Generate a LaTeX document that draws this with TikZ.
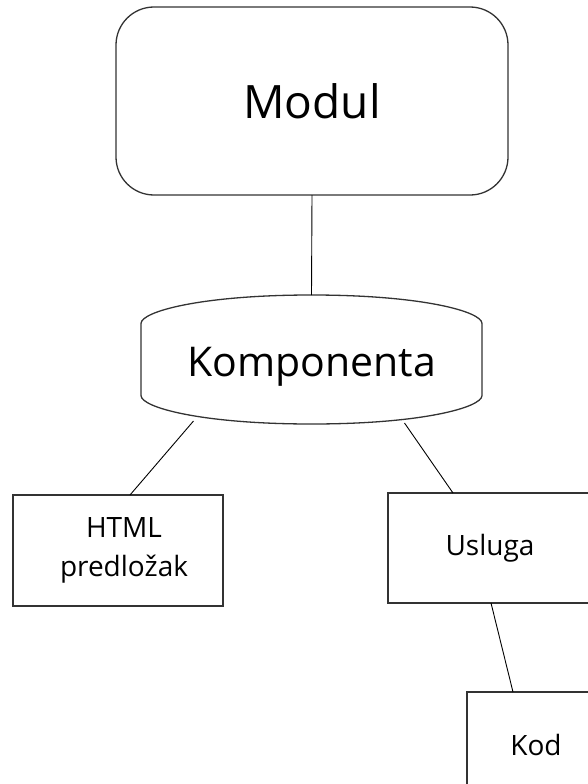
\documentclass[tikz,border=0pt]{standalone}
\usepackage{fontspec}
\setmainfont{Open Sans}
\tikzset{
    box/.style={draw=black!80, line width=1.3pt, inner sep=0pt, outer sep=0pt, align=center},
    conn/.style={line width=0.9pt},
    small/.style={font=\fontsize{28}{39}\selectfont}
}

\begin{document}
\begin{tikzpicture}[x=1pt, y=-1pt]
    \clip (0, 0) rectangle (588, 784);
    \node[box, rounded corners=38pt, minimum width=392, minimum height=188, font=\fontsize{46}{50}\selectfont](modul) at (312, 101){Modul};
    \node[inner sep=0pt, outer sep=0pt, minimum width=341, minimum height=129, text height=34pt, text depth=0pt, font=\fontsize{41}{48}\selectfont](komp) at (311.5, 359.5){Komponenta};
    % bulged shape round Komponenta
    \draw[box, shift={(komp.center)}](-170.5, -36) .. controls (-170.5, -48) and (-110, -64.5) .. (0, -64.5)
        .. controls (110, -64.5) and (170.5, -48) .. (170.5, -36) -- (170.5, 36)
        .. controls (170.5, 48) and (110, 64.5) .. (0, 64.5)
        .. controls (-110, 64.5) and (-170.5, 48) .. (-170.5, 36) -- cycle;
    \node[box, small, minimum width=210, minimum height=111](html) at (118, 550.5){\hspace*{12pt}HTML\\\hspace*{12pt}predložak};
    \node[box, small, minimum width=204, minimum height=110](usluga) at (490, 548){Usluga};
    \node[box, small, minimum width=138, minimum height=120](kod) at (536, 752){\raisebox{14pt}{Kod}};
    \draw[conn](modul.south)--(komp.north);
    \draw[conn]([shift={(-118pt, 3pt)}]komp.south)--([xshift=12pt]html.north);
    \draw[conn]([shift={(93pt, 1pt)}]komp.south)--([xshift=-37pt]usluga.north);
    \draw[conn]([xshift=1pt]usluga.south)--([xshift=-23pt]kod.north);
\end{tikzpicture}
\end{document}
